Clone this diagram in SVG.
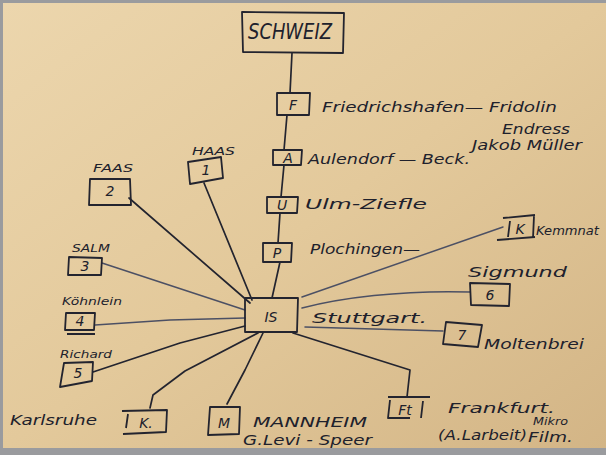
<svg xmlns="http://www.w3.org/2000/svg" width="606" height="455" viewBox="0 0 606 455">
<defs>
<linearGradient id="paper" x1="0" y1="0" x2="1" y2="1">
<stop offset="0" stop-color="#ecd6ad"/>
<stop offset="0.5" stop-color="#e3c99b"/>
<stop offset="1" stop-color="#d3b586"/>
</linearGradient>
<style>
.box{fill:none;stroke:#23242f;stroke-width:1.8;stroke-linejoin:round}
.ink{fill:none;stroke:#23242f;stroke-width:1.7;stroke-linecap:round;stroke-linejoin:round}
.pale{fill:none;stroke:#4c5064;stroke-width:1.5;stroke-linecap:round;stroke-linejoin:round}
text{font-family:"DejaVu Sans","Liberation Sans",sans-serif;font-style:italic;fill:#20212c}
.lb{font-size:14px}
.sm{font-size:11px}
.bx{font-size:14px;text-anchor:middle}
</style>
</defs>
<rect x="0" y="0" width="606" height="455" fill="#9a9b9e"/>
<rect x="3" y="3" width="603" height="445" fill="url(#paper)"/>

<g id="connectors">
<path class="ink" d="M292,53 L290,93"/>
<path class="ink" d="M287,115 L284,150"/>
<path class="ink" d="M284,165 L281,197"/>
<path class="ink" d="M280,213 L278,243"/>
<path class="ink" d="M280,262 L272,298"/>
<path class="ink" d="M204,183 L252,300"/>
<path class="ink" d="M129,198 L250,303"/>
<path class="pale" d="M102,263 L245,310"/>
<path class="pale" d="M95,325 L170,320 L245,318"/>
<path class="ink" d="M93,372 L180,343 L245,326"/>
<path class="ink" d="M150,408 L153,395 L185,371 L258,333"/>
<path class="ink" d="M227,404 L245,370 L263,333"/>
<path class="ink" d="M293,333 L410,370 L407,397"/>
<path class="pale" d="M302,297 L503,227"/>
<path class="pale" d="M302,308 C340,298 400,290 470,292"/>
<path class="pale" d="M305,327 L443,331"/>
</g>

<g id="schweiz">
<path class="box" d="M242,12 L344,13 L343,53 L243,52 Z"/>
<text x="248" y="39" font-size="22" textLength="84" lengthAdjust="spacingAndGlyphs">SCHWEIZ</text>
</g>
<g id="node-F">
<path class="box" d="M277,93 L310,93 L309,115 L277,115 Z"/>
<text class="bx" x="293" y="110">F</text>
<text class="lb" x="322" y="112" textLength="235" lengthAdjust="spacingAndGlyphs">Friedrichshafen— Fridolin</text>
<text class="lb" x="502" y="134" textLength="68" lengthAdjust="spacingAndGlyphs">Endress</text>
<text class="lb" x="472" y="150" textLength="110" lengthAdjust="spacingAndGlyphs">Jakob Müller</text>
</g>
<g id="node-A">
<path class="box" d="M273,150 L302,150 L301,165 L273,165 Z"/>
<text class="bx" x="288" y="163" font-size="12">A</text>
<text class="lb" x="308" y="164" textLength="162" lengthAdjust="spacingAndGlyphs">Aulendorf — Beck.</text>
</g>
<g id="node-U">
<path class="box" d="M267,197 L298,197 L297,213 L267,213 Z"/>
<text class="bx" x="282" y="210" font-size="12">U</text>
<text class="lb" x="305" y="209" font-size="15" textLength="122" lengthAdjust="spacingAndGlyphs">Ulm-Ziefle</text>
</g>
<g id="node-P">
<path class="box" d="M263,243 L292,243 L291,262 L263,262 Z"/>
<text class="bx" x="277" y="258" font-size="13">P</text>
<text class="lb" x="310" y="254" textLength="110" lengthAdjust="spacingAndGlyphs">Plochingen—</text>
</g>
<g id="node-IS">
<path class="box" d="M245,298 L298,298 L297,332 L245,332 Z"/>
<text class="bx" x="271" y="322" font-size="19">IS</text>
<text class="lb" x="312" y="323" font-size="16" textLength="115" lengthAdjust="spacingAndGlyphs">Stuttgart.</text>
</g>
<g id="node-Kemmnat">
<path class="box" d="M503,218 L535,215 M497,240 L535,237 M510,221 L508,237 M534,216 L533,238"/>
<text class="bx" x="520" y="234" font-size="12">K</text>
<text x="536" y="235" font-size="12" textLength="63" lengthAdjust="spacingAndGlyphs">Kemmnat</text>
</g>
<g id="node-6">
<path class="box" d="M470,283 L510,284 L509,306 L471,305 Z"/>
<text class="bx" x="490" y="300" font-size="12">6</text>
<text class="lb" x="468" y="277" textLength="99" lengthAdjust="spacingAndGlyphs">Sigmund</text>
</g>
<g id="node-7">
<path class="box" d="M446,322 L482,325 L478,347 L443,344 Z"/>
<text class="bx" x="462" y="340" font-size="12">7</text>
<text class="lb" x="484" y="349" textLength="100" lengthAdjust="spacingAndGlyphs">Moltenbrei</text>
</g>
<g id="node-1">
<path class="box" d="M188,162 L221,157 L223,178 L190,184 Z"/>
<text class="bx" x="206" y="175" font-size="10">1</text>
<text class="sm" x="192" y="155" textLength="43" lengthAdjust="spacingAndGlyphs">HAAS</text>
</g>
<g id="node-2">
<path class="box" d="M90,179 L130,179 L131,205 L89,205 Z"/>
<text class="bx" x="110" y="196" font-size="10">2</text>
<text class="sm" x="93" y="172" textLength="40" lengthAdjust="spacingAndGlyphs">FAAS</text>
</g>
<g id="node-3">
<path class="box" d="M69,257 L102,258 L101,275 L68,275 Z"/>
<text class="bx" x="85" y="271" font-size="11">3</text>
<text class="sm" x="72" y="252" textLength="38" lengthAdjust="spacingAndGlyphs">SALM</text>
</g>
<g id="node-4">
<path class="box" d="M66,313 L95,313 L94,330 L65,330 Z M67,334 L95,334"/>
<text class="bx" x="80" y="326" font-size="10">4</text>
<text class="sm" x="62" y="305" font-size="12" textLength="60" lengthAdjust="spacingAndGlyphs">Köhnlein</text>
</g>
<g id="node-5">
<path class="box" d="M64,363 L93,362 L92,381 L60,387 Z"/>
<text class="bx" x="78" y="378" font-size="11">5</text>
<text class="sm" x="60" y="358" font-size="12" textLength="52" lengthAdjust="spacingAndGlyphs">Richard</text>
</g>
<g id="node-K">
<path class="box" d="M122,411 L167,410 L166,432 L123,434 M128,414 L126,428"/>
<text class="bx" x="146" y="428" font-size="13">K.</text>
<text class="lb" x="10" y="425" textLength="87" lengthAdjust="spacingAndGlyphs">Karlsruhe</text>
</g>
<g id="node-M">
<path class="box" d="M210,407 L240,407 L239,434 L208,435 Z"/>
<text class="bx" x="224" y="428" font-size="16">M</text>
<text class="lb" x="253" y="427" textLength="114" lengthAdjust="spacingAndGlyphs">MANNHEIM</text>
<text class="lb" x="243" y="445" textLength="129" lengthAdjust="spacingAndGlyphs">G.Levi - Speer</text>
</g>
<g id="node-Ft">
<path class="box" d="M388,397 L430,397 M390,400 L388,418 L410,418 M423,401 L421,418"/>
<text class="bx" x="405" y="415" font-size="14">Ft</text>
<text class="lb" x="448" y="413" textLength="107" lengthAdjust="spacingAndGlyphs">Frankfurt.</text>
<text class="lb" x="438" y="440" textLength="89" lengthAdjust="spacingAndGlyphs">(A.Larbeit)</text>
<text x="533" y="425" font-size="10" textLength="35" lengthAdjust="spacingAndGlyphs">Mikro</text>
<text class="lb" x="528" y="442" font-size="13" textLength="45" lengthAdjust="spacingAndGlyphs">Film.</text>
</g>
</svg>
